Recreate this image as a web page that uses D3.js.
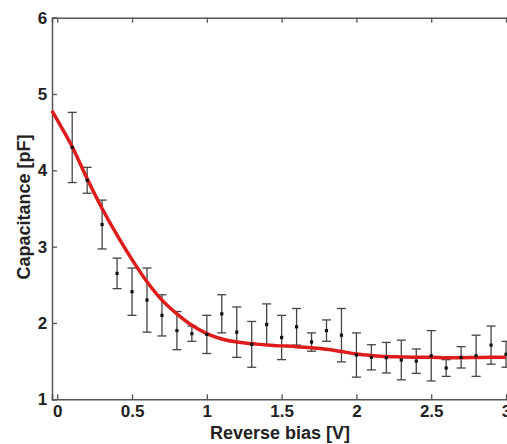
<!DOCTYPE html>
<html>
<head>
<meta charset="utf-8">
<script src="https://cdn.jsdelivr.net/npm/d3@7"></script>
<style>
body { margin: 0; background: #fff; }
text { font-family: "Liberation Sans", Arial, sans-serif; font-weight: bold; }
</style>
</head>
<body>
<div id="chart-area"></div>
<script>
// measured points (reverse bias V, capacitance pF, error)
let bias = [0.1, 0.2, 0.3, 0.4, 0.5, 0.6, 0.7, 0.8, 0.9, 1.0,
            1.1, 1.2, 1.3, 1.4, 1.5, 1.6, 1.7, 1.8, 1.9, 2.0,
            2.1, 2.2, 2.3, 2.4, 2.5, 2.6, 2.7, 2.8, 2.9, 3.0];
let cap = [4.30, 3.87, 3.29, 2.65, 2.41, 2.30, 2.10, 1.90, 1.86, 1.85,
           2.12, 1.88, 1.72, 1.98, 1.81, 1.95, 1.75, 1.90, 1.84, 1.58,
           1.55, 1.545, 1.515, 1.50, 1.57, 1.41, 1.55, 1.57, 1.71, 1.59];
let err = [0.46, 0.17, 0.32, 0.20, 0.31, 0.42, 0.27, 0.25, 0.10, 0.25,
           0.25, 0.33, 0.30, 0.27, 0.29, 0.24, 0.12, 0.14, 0.35, 0.29,
           0.165, 0.20, 0.26, 0.16, 0.33, 0.11, 0.14, 0.27, 0.25, 0.17];

// fitted curve
let fitX = [-0.035, 0.0, 0.1, 0.2, 0.3, 0.4, 0.5, 0.6, 0.7, 0.8, 0.9, 1.0,
            1.1, 1.2, 1.3, 1.4, 1.5, 1.6, 1.7, 1.8, 1.9, 2.0,
            2.1, 2.2, 2.3, 2.4, 2.5, 2.6, 2.7, 2.8, 2.9, 3.0];
let fitY = [4.78, 4.66, 4.31, 3.89, 3.50, 3.15, 2.83, 2.54, 2.30, 2.12, 1.97, 1.86,
            1.79, 1.75, 1.73, 1.71, 1.70, 1.69, 1.675, 1.655, 1.625, 1.595,
            1.575, 1.56, 1.555, 1.55, 1.55, 1.545, 1.545, 1.548, 1.55, 1.552];

let xTicks = [0, 0.5, 1, 1.5, 2, 2.5, 3];
let yTicks = [1, 2, 3, 4, 5, 6];

let W = 507, H = 444;
let mLeft = 52, mRight = 512, mTop = 17.7, mBottom = 399.3;

let svg = d3.select("#chart-area")
			.append("svg")
			.attr("width", W)
			.attr("height", H);

let xVal = d3.scaleLinear()
		.domain([-0.035, 3.04])
		.range([mLeft, mRight]);

let yVal = d3.scaleLinear()
		.domain([1, 6])
		.range([mBottom, mTop]);

let axisColor = "#555";

// bottom axis, ticks pointing inward
let xAxis_group = svg.append("g")
		.attr("transform", "translate(0," + mBottom + ")")
		.call(d3.axisBottom(xVal).tickValues(xTicks).tickSize(-5).tickPadding(6)
			.tickFormat(d3.format("")));

// top axis
let xTop_group = svg.append("g")
		.attr("transform", "translate(0," + mTop + ")")
		.call(d3.axisTop(xVal).tickValues(xTicks).tickSize(-5).tickFormat(""));

// left axis
let yAxis_group = svg.append("g")
		.attr("transform", "translate(" + mLeft + ",0)")
		.call(d3.axisLeft(yVal).tickValues(yTicks).tickSize(-5).tickPadding(9)
			.tickFormat(d3.format("d")));

svg.selectAll(".domain").attr("stroke", axisColor).attr("stroke-width", 1.5);
svg.selectAll(".tick line").attr("stroke", axisColor).attr("stroke-width", 1.3);
svg.selectAll(".tick text")
	.attr("fill", "#222")
	.attr("font-size", "17px")
	.style("font-weight", "bold")
	.style("font-family", "'Liberation Sans', Arial, sans-serif");
yAxis_group.selectAll(".tick text").attr("dx", "0.25em");

// error bars
let bars = svg.append("g");
bias.forEach(function(b, i){
	let x = xVal(b);
	let y0 = yVal(cap[i] - err[i]);
	let y1 = yVal(cap[i] + err[i]);
	let c = "#444";
	bars.append("line").attr("x1", x).attr("x2", x).attr("y1", y0).attr("y2", y1)
		.attr("stroke", c).attr("stroke-width", 1.3);
	bars.append("line").attr("x1", x - 4.5).attr("x2", x + 4.5).attr("y1", y0).attr("y2", y0)
		.attr("stroke", c).attr("stroke-width", 1.3);
	bars.append("line").attr("x1", x - 4.5).attr("x2", x + 4.5).attr("y1", y1).attr("y2", y1)
		.attr("stroke", c).attr("stroke-width", 1.3);
});

// fit line
let fitLine = d3.line()
		.x((d, i) => xVal(fitX[i]))
		.y((d, i) => yVal(fitY[i]))
		.curve(d3.curveMonotoneX);

svg.append("path")
	.attr("d", fitLine(fitX))
	.attr("fill", "none")
	.attr("stroke", "#dd1c1c")
	.attr("stroke-width", 3.5);

// markers
svg.append("g")
	.selectAll("rect")
	.data(bias)
	.enter()
	.append("rect")
	.attr("x", d => xVal(d) - 1.6)
	.attr("y", (d, i) => yVal(cap[i]) - 1.6)
	.attr("width", 3.2)
	.attr("height", 3.2)
	.attr("fill", "#111");

// axis labels
svg.append("text")
	.text("Reverse bias [V]")
	.attr("x", 280)
	.attr("y", 439)
	.attr("text-anchor", "middle")
	.attr("font-size", "18px")
	.attr("fill", "#222");

svg.append("text")
	.text("Capacitance [pF]")
	.attr("transform", "rotate(-90)")
	.attr("x", -207)
	.attr("y", 30)
	.attr("text-anchor", "middle")
	.attr("font-size", "18px")
	.attr("fill", "#222");
</script>
</body>
</html>
